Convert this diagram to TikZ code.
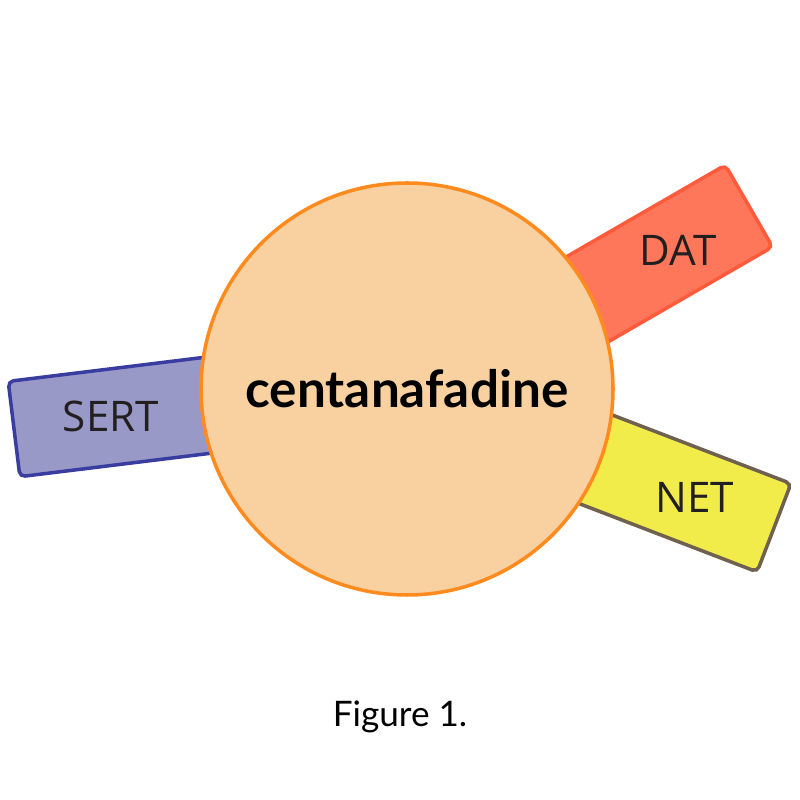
\documentclass[tikz,border=0pt]{standalone}
\usepackage{fontspec}
\setmainfont{Lato}
\newfontfamily\labelfont{Open Sans}
\usepackage{xcolor}
\definecolor{sertfill}{HTML}{9999C8}
\definecolor{sertline}{HTML}{3A3DA0}
\definecolor{datfill}{HTML}{FF775A}
\definecolor{datline}{HTML}{FF5A3C}
\definecolor{netfill}{HTML}{F2EC4A}
\definecolor{netline}{HTML}{6E6150}
\definecolor{drugfill}{HTML}{F9D1A1}
\definecolor{drugline}{HTML}{FF8A1E}
\definecolor{inkdark}{HTML}{231F20}
\begin{document}
\begin{tikzpicture}
    \useasboundingbox (0,0) rectangle (8,8);
    \node[draw=sertline, fill=sertfill, line width=1pt, rounded corners=1.5pt, inner sep=0pt,
          minimum width=2.8cm, minimum height=0.96cm, rotate=7] (sert) at (1.53,3.88) {};
    \node[draw=datline, fill=datfill, line width=1pt, rounded corners=1.5pt, inner sep=0pt,
          minimum width=3.0cm, minimum height=0.945cm, rotate=30] (dat) at (6.19,5.19) {};
    \node[draw=netline, fill=netfill, line width=1pt, rounded corners=1.5pt, inner sep=0pt,
          minimum width=3.0cm, minimum height=0.946cm, rotate=-21] (net) at (6.34,3.26) {};
    \node[circle, draw=drugline, fill=drugfill, line width=1pt, inner sep=0pt,
          minimum size=4.12cm] (drug) at (4.07,4.11) {};
    \node[text=inkdark, font=\labelfont\fontsize{12}{14}\selectfont] (sertlbl) at (1.11,3.84) {SERT};
    \node[text=inkdark, font=\labelfont\fontsize{12}{14}\selectfont] (datlbl) at (6.78,5.50) {DAT};
    \node[text=inkdark, font=\labelfont\fontsize{12}{14}\selectfont] (netlbl) at (6.95,3.03) {NET};
    \node[text=black, font=\bfseries\fontsize{14.6}{17}\selectfont] (druglbl) at (drug.center) {centanafadine};
    \node[text=black, font=\fontsize{10}{12}\selectfont] (caption) at (4.00,0.83) {Figure 1.};
\end{tikzpicture}
\end{document}
